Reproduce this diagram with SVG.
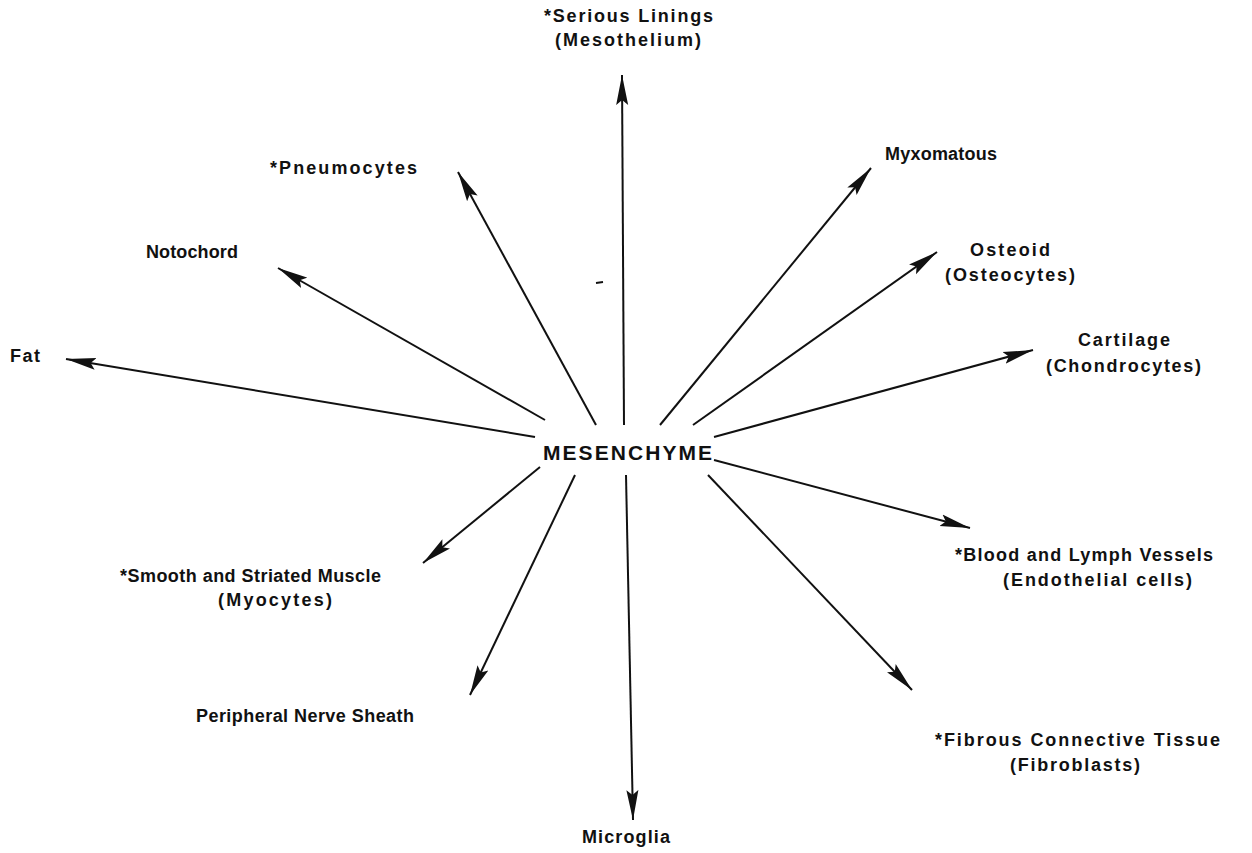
<svg xmlns="http://www.w3.org/2000/svg" width="1252" height="853" viewBox="0 0 1252 853">
<style>
text{font-family:"Liberation Sans",Arial,sans-serif;font-weight:bold;font-size:18px;fill:#111}
.hub{font-size:21px}
.ln{stroke:#111;stroke-width:2;fill:none;marker-end:url(#ah)}
</style>
<defs>
<marker id="ah" markerUnits="userSpaceOnUse" markerWidth="32" markerHeight="14" refX="30" refY="7" orient="auto" viewBox="0 0 32 14">
<path d="M0,1 L30,7 L0,13 L5,7 z" fill="#111"/>
</marker>
</defs>
<rect width="1252" height="853" fill="#fff"/>
<g id="connectors">
<line class="ln" x1="624" y1="425" x2="622" y2="75"/>
<line class="ln" x1="596" y1="425" x2="458" y2="172"/>
<line class="ln" x1="545" y1="420" x2="278" y2="268"/>
<line class="ln" x1="535" y1="437" x2="66" y2="359"/>
<line class="ln" x1="660" y1="425" x2="871" y2="168"/>
<line class="ln" x1="693" y1="425" x2="937" y2="252"/>
<line class="ln" x1="714" y1="437" x2="1033" y2="350"/>
<line class="ln" x1="714" y1="460" x2="970" y2="528"/>
<line class="ln" x1="708" y1="475" x2="912" y2="690"/>
<line class="ln" x1="626" y1="475" x2="633" y2="820"/>
<line class="ln" x1="575" y1="475" x2="470" y2="695"/>
<line class="ln" x1="540" y1="467" x2="423" y2="563"/>
<line x1="596" y1="283" x2="603" y2="282" stroke="#111" stroke-width="2"/>
</g>
<g id="hub"><text class="hub" x="543" y="460" textLength="169" lengthAdjust="spacing">MESENCHYME</text></g>
<g id="serous"><text x="544" y="22" textLength="169" lengthAdjust="spacing">*Serious Linings</text><text x="555" y="46" textLength="146" lengthAdjust="spacing">(Mesothelium)</text></g>
<g id="pneumocytes"><text x="270" y="174" textLength="147" lengthAdjust="spacing">*Pneumocytes</text></g>
<g id="notochord"><text x="146" y="258" textLength="92" lengthAdjust="spacing">Notochord</text></g>
<g id="fat"><text x="10" y="362" textLength="30" lengthAdjust="spacing">Fat</text></g>
<g id="myxomatous"><text x="885" y="160" textLength="112" lengthAdjust="spacing">Myxomatous</text></g>
<g id="osteoid"><text x="970" y="256" textLength="80" lengthAdjust="spacing">Osteoid</text><text x="945" y="281" textLength="130" lengthAdjust="spacing">(Osteocytes)</text></g>
<g id="cartilage"><text x="1078" y="346" textLength="92" lengthAdjust="spacing">Cartilage</text><text x="1046" y="372" textLength="155" lengthAdjust="spacing">(Chondrocytes)</text></g>
<g id="vessels"><text x="955" y="561" textLength="258" lengthAdjust="spacing">*Blood and Lymph Vessels</text><text x="1003" y="586" textLength="189" lengthAdjust="spacing">(Endothelial cells)</text></g>
<g id="fibrous"><text x="935" y="746" textLength="285" lengthAdjust="spacing">*Fibrous Connective Tissue</text><text x="1010" y="771" textLength="130" lengthAdjust="spacing">(Fibroblasts)</text></g>
<g id="microglia"><text x="582" y="843" textLength="88" lengthAdjust="spacing">Microglia</text></g>
<g id="nerve"><text x="196" y="722" textLength="218" lengthAdjust="spacing">Peripheral Nerve Sheath</text></g>
<g id="muscle"><text x="120" y="582" textLength="261" lengthAdjust="spacing">*Smooth and Striated Muscle</text><text x="218" y="606" textLength="114" lengthAdjust="spacing">(Myocytes)</text></g>
</svg>
